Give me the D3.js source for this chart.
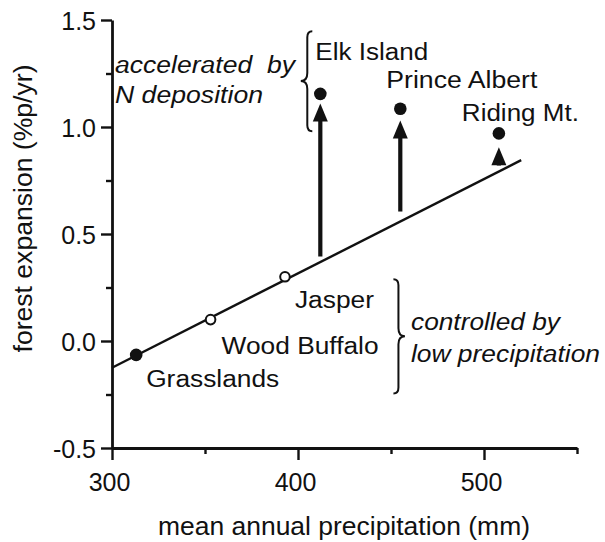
<!DOCTYPE html>
<html>
<head>
<meta charset="utf-8">
<script src="https://cdn.jsdelivr.net/npm/d3@7"></script>
<style>
  html, body { margin: 0; padding: 0; background: #fff; }
  svg { display: block; }
  text { font-family: "Liberation Sans", Arial, Helvetica, sans-serif; fill: #111; }
</style>
</head>
<body>
<svg id="chart" width="605" height="542"></svg>
<script>
// Forest expansion rate against mean annual precipitation, by site
const sites = ["Grasslands", "Wood Buffalo", "Jasper", "Elk Island", "Prince Albert", "Riding Mt."];
const precip = [313, 353, 393, 412, 455, 508];
const expansion = [-0.065, 0.10, 0.30, 1.155, 1.085, 0.97];
const filledMarker = [true, false, false, true, true, true];

// Fitted precipitation-limited line
const fitPrecip = [300, 520];
const fitExpansion = [-0.125, 0.845];

// Departures above the fitted line (N deposition effect)
const arrowPrecip = [412, 455, 508];
const arrowFrom = [0.395, 0.605, 0.82];
const arrowTo = [1.11, 1.03, 0.905];

// Axis ticks
const xTicks = [300, 400, 500];
const xTickLabels = ["300", "400", "500"];
const xMinorTicks = [350, 450, 550];
const yTicks = [-0.5, 0.0, 0.5, 1.0, 1.5];
const yTickLabels = ["-0.5", "0.0", "0.5", "1.0", "1.5"];
const yMinorTicks = [-0.25, 0.25, 0.75, 1.25];

const svg = d3.select("#chart");
const x = d3.scaleLinear().domain([300, 550]).range([112, 577]);
const y = d3.scaleLinear().domain([-0.5, 1.5]).range([448, 20]);

// stretch a text element to a given rendered width
function fit(sel, w) {
  sel.attr("textLength", w).attr("lengthAdjust", "spacingAndGlyphs");
  return sel;
}

// ---- axes ----
const yAxis = svg.append("g").attr("transform", `translate(${x(300)},0)`)
  .call(d3.axisLeft(y).tickValues(yTicks).tickSize(11).tickSizeOuter(0)
    .tickPadding(5).tickFormat((d, i) => yTickLabels[i]));
svg.append("g").attr("transform", `translate(${x(300)},0)`)
  .call(d3.axisLeft(y).tickValues(yMinorTicks).tickSize(6).tickSizeOuter(0).tickFormat(""))
  .select(".domain").remove();

const xAxis = svg.append("g").attr("transform", `translate(0,${y(-0.5)})`)
  .call(d3.axisBottom(x).tickValues(xTicks).tickSize(12).tickSizeOuter(0)
    .tickPadding(13).tickFormat((d, i) => xTickLabels[i]));
svg.append("g").attr("transform", `translate(0,${y(-0.5)})`)
  .call(d3.axisBottom(x).tickValues(xMinorTicks).tickSize(6).tickSizeOuter(0).tickFormat(""))
  .select(".domain").remove();

svg.selectAll(".domain").attr("stroke", "#111").attr("stroke-width", 2.8);
svg.selectAll(".tick line").attr("stroke", "#111").attr("stroke-width", 2.4);
yAxis.selectAll(".tick text")
  .attr("font-size", 25).attr("font-family", null).attr("fill", "#111")
  .attr("dy", "0.36em");
xAxis.selectAll(".tick text")
  .attr("font-size", 25).attr("font-family", null).attr("fill", "#111")
  .attr("dx", -3);

// axis titles
fit(svg.append("text").attr("x", 344).attr("y", 535).attr("text-anchor", "middle")
  .attr("font-size", 25).text("mean annual precipitation (mm)"), 372);
fit(svg.append("text").attr("transform", "translate(32,208.5) rotate(-90)")
  .attr("text-anchor", "middle").attr("font-size", 26).text("forest expansion (%p/yr)"), 288);

// ---- fitted line ----
svg.append("line")
  .attr("x1", x(fitPrecip[0])).attr("y1", y(fitExpansion[0]))
  .attr("x2", x(fitPrecip[1])).attr("y2", y(fitExpansion[1]))
  .attr("stroke", "#111").attr("stroke-width", 2.4);

// ---- arrows ----
const arrows = svg.append("g");
arrowPrecip.forEach((p, i) => {
  const ax = x(p), tip = y(arrowTo[i]), base = y(arrowFrom[i]);
  arrows.append("line").attr("x1", ax).attr("x2", ax)
    .attr("y1", base).attr("y2", tip + 14)
    .attr("stroke", "#111").attr("stroke-width", 4.2);
  arrows.append("path")
    .attr("d", `M${ax},${tip} L${ax + 7.5},${tip + 18} L${ax - 7.5},${tip + 18} Z`)
    .attr("fill", "#111");
});

// ---- site markers ----
svg.append("g").selectAll("circle").data(sites).join("circle")
  .attr("cx", (d, i) => x(precip[i]))
  .attr("cy", (d, i) => y(expansion[i]))
  .attr("r", (d, i) => filledMarker[i] ? 6.3 : 4.8)
  .attr("fill", (d, i) => filledMarker[i] ? "#111" : "#fff")
  .attr("stroke", "#111")
  .attr("stroke-width", (d, i) => filledMarker[i] ? 0 : 2);

// ---- site labels (offsets from each marker) ----
const labelOffset = {
  "Grasslands": [10, 32, 133],
  "Wood Buffalo": [11, 34, 157],
  "Jasper": [10, 31, 79],
  "Elk Island": [-5, -34, 113],
  "Prince Albert": [-14, -21, 151],
  "Riding Mt.": [-37, -12, 117]
};
sites.forEach((s, i) => {
  const [dx, dy, w] = labelOffset[s];
  fit(svg.append("text")
    .attr("x", x(precip[i]) + dx).attr("y", y(expansion[i]) + dy)
    .attr("font-size", 23).text(s), w);
});

// ---- group braces ----
function brace(xv, yTop, yMid, yBot, dir) {
  const bx = x(xv), t = y(yTop), m = y(yMid), b = y(yBot);
  const h = 5 * dir, tip = -6.5 * dir;
  return `M${bx + h},${t} Q${bx},${t} ${bx},${t + 6} L${bx},${m - 8} Q${bx},${m} ${bx + tip},${m}` +
         ` Q${bx},${m} ${bx},${m + 8} L${bx},${b - 6} Q${bx},${b} ${bx + h},${b}`;
}
svg.append("path").attr("d", brace(405, 1.447, 1.215, 0.98, 1))
  .attr("fill", "none").attr("stroke", "#111").attr("stroke-width", 2);
svg.append("path").attr("d", brace(454, 0.288, 0.022, -0.245, -1))
  .attr("fill", "none").attr("stroke", "#111").attr("stroke-width", 2);

// ---- group captions ----
const caption = (tx, ty, str, w) => fit(svg.append("text")
  .attr("x", tx).attr("y", ty).attr("font-size", 23)
  .attr("font-style", "italic").style("white-space", "pre").text(str), w);
caption(115, 73, "accelerated  by", 180);
caption(115, 103, "N deposition", 148);
caption(411, 330, "controlled by", 149);
caption(411, 362, "low precipitation", 189);
</script>
</body>
</html>
